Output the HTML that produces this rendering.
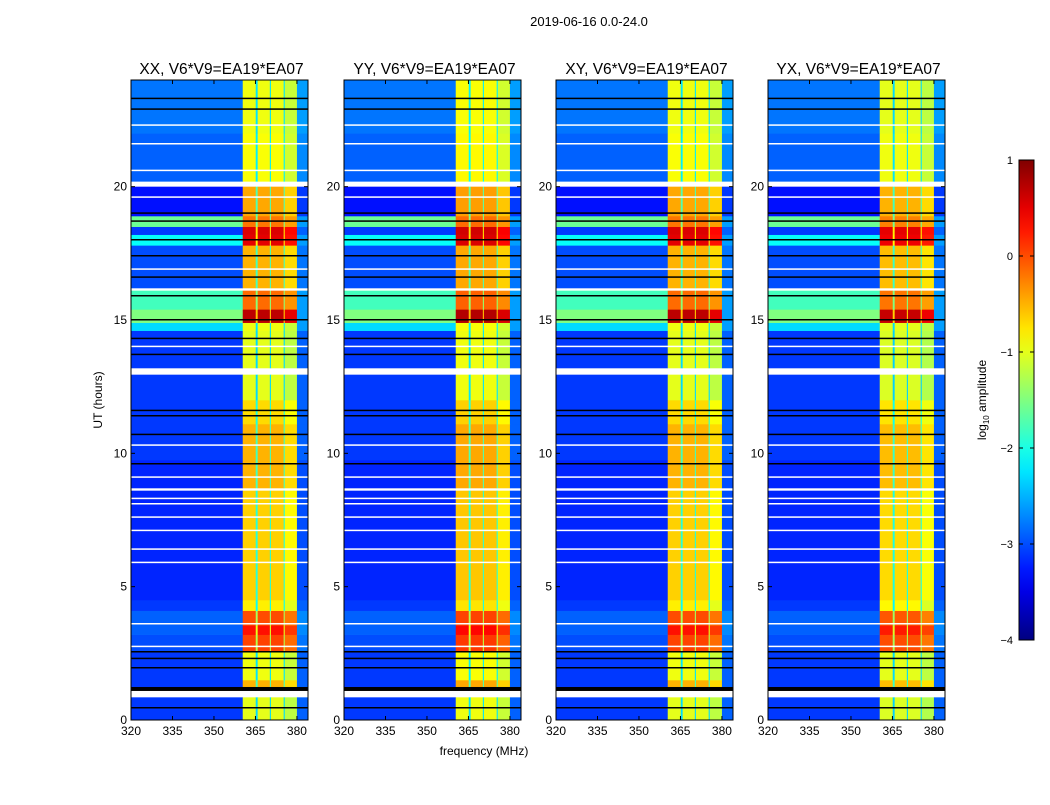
<!DOCTYPE html>
<html><head><meta charset="utf-8"><style>
html,body{margin:0;padding:0;background:#fff;}
svg text{font-family:"Liberation Sans",sans-serif;}
</style></head><body>
<svg id="fig" width="1050" height="800" xmlns="http://www.w3.org/2000/svg">
<rect width="1050" height="800" fill="#fff"/>
<text x="589" y="26" font-size="13" text-anchor="middle">2019-06-16 0.0-24.0</text>
<text x="484" y="755" font-size="12" text-anchor="middle">frequency (MHz)</text>
<text x="102" y="400" font-size="12" text-anchor="middle" transform="rotate(-90 102 400)">UT (hours)</text>
<g id="panels"></g>
<g id="cbar"></g>
</svg>
<script>
// ---- data ----
const panelTitles = ["XX, V6*V9=EA19*EA07","YY, V6*V9=EA19*EA07","XY, V6*V9=EA19*EA07","YX, V6*V9=EA19*EA07"];
const panelLeft = [131, 344, 556, 768];
const panelBandOffset = [0, 0.05, 0, -0.05];
const xTicks = [320, 335, 350, 365, 380];
const yTicks = [0, 5, 10, 15, 20];
const cbTicks = [1, 0, -1, -2, -3, -4];
// time bands: [t0, t1, background level, band level] (log10 amplitude)
const rowStart = [0, 0.85, 1.1, 1.25, 1.5, 2.6, 3.2, 3.55, 4.1, 4.5, 8.6, 8.7, 9.75, 11.1, 12.0, 12.95, 13.2, 14.6, 14.9, 15.4, 16.1, 16.2, 17.8, 18.2, 18.5, 18.9, 20.0, 20.2, 22.0];
const rowEnd   = [0.85, 1.1, 1.25, 1.5, 2.6, 3.2, 3.55, 4.1, 4.5, 8.6, 8.7, 9.75, 11.1, 12.0, 12.95, 13.2, 14.6, 14.9, 15.4, 16.1, 16.2, 17.8, 18.2, 18.5, 18.9, 20.0, 20.2, 22.0, 24.0];
const rowBg    = [-3.1, null, -9, -3.1, -3.1, -3.0, -2.9, -2.9, -3.1, -3.2, null, -3.2, -3.1, -3.1, -3.1, null, -3.1, -2.3, -1.5, -1.8, null, -3.0, -2.1, -3.1, -1.6, -3.3, null, -2.9, -2.8];
const rowBand  = [-1.0, null, -9, -0.5, -0.95, 0.05, 0.3, 0.0, -0.8, -0.65, null, -0.5, -0.5, -0.7, -1.0, null, -1.0, -0.95, 0.7, -0.15, null, -0.5, 0.5, 0.55, -0.2, -0.45, null, -0.9, -0.95];
// thin lines: time, kind (0 = black flag, 1 = blank)
const lineT = [0.45, 1.95, 2.3, 2.55, 2.75, 3.6, 5.9, 6.4, 7.1, 7.6, 8.1, 8.3, 9.1, 9.6, 10.3, 10.7, 11.4, 11.6, 13.7, 14.0, 14.3, 15.0, 15.9, 16.6, 16.9, 17.4, 18.0, 18.7, 19.0, 19.6, 20.6, 21.6, 22.3, 22.9, 23.3];
const lineK = [0, 0, 0, 0, 1, 1, 1, 1, 1, 1, 1, 1, 1, 0, 1, 0, 0, 0, 0, 1, 0, 0, 0, 0, 1, 0, 0, 0, 0, 1, 1, 1, 1, 0, 0];
// frequency columns: type: 0 bg, 1 band, 2 gap, 3 band-dim, 4 edge
const colF0 = [320, 360.4, 365.1, 365.8, 370.2, 370.6, 375.2, 375.6, 380.0];
const colF1 = [360.4, 365.1, 365.8, 370.2, 370.6, 375.2, 375.6, 380.0, 384.0];
const colType = [0, 1, 2, 1, 2, 1, 2, 3, 4];

// ---- helpers ----
const NS = "http://www.w3.org/2000/svg";
const W = 177, TOP = 80, BOT = 720;
const fMin = 320, fMax = 384, tMin = 0, tMax = 24;
function yOf(t){ return BOT - (t - tMin) / (tMax - tMin) * (BOT - TOP); }
function mk(tag, attrs, parent){ const e = document.createElementNS(NS, tag); for (const k in attrs) e.setAttribute(k, attrs[k]); parent.appendChild(e); return e; }
function jet(v){
  let x = (v + 4) / 5; x = Math.max(0, Math.min(1, x));
  const r = Math.max(0, Math.min(1, 1.5 - Math.abs(4*x - 3)));
  const g = Math.max(0, Math.min(1, 1.5 - Math.abs(4*x - 2)));
  const b = Math.max(0, Math.min(1, 1.5 - Math.abs(4*x - 1)));
  return `rgb(${Math.round(r*255)},${Math.round(g*255)},${Math.round(b*255)})`;
}
function cellVal(type, bg, band){
  if (type === 0) return bg;
  if (type === 1) return band;
  if (type === 2) return band - 1.3;
  if (type === 3) return band - 0.2;
  return Math.min(bg + 0.2, -2.6);
}

const panels = document.getElementById('panels');
panelLeft.forEach((L, p) => {
  const xOf = f => L + (f - fMin) / (fMax - fMin) * W;
  const g = mk('g', {}, panels);
  
  
  for (let r = 0; r < rowStart.length; r++) {
    const y0 = yOf(rowEnd[r]), y1 = yOf(rowStart[r]);
    if (rowBg[r] === null) continue; // blank (white) row
    for (let c = 0; c < colF0.length; c++) {
      const v = rowBg[r] < -5 ? -9 : cellVal(colType[c], rowBg[r], rowBand[r] + (colType[c] ? panelBandOffset[p] : 0));
      const x0 = xOf(colF0[c]), x1 = xOf(colF1[c]);
      const cell = mk('rect', {x: x0, y: y0, width: x1 - x0 + 0.3, height: y1 - y0 + 0.3, fill: v < -5 ? '#000' : jet(v)}, g);
      
      
    }
  }
  lineT.forEach((t, i) => {
    const ln = mk('rect', {x: L, y: yOf(t) - 1, width: W, height: 1.5, fill: lineK[i] ? '#fff' : '#000'}, g);
    
    
  });
  const fr = mk('rect', {x: L, y: TOP, width: W, height: BOT - TOP, fill: 'none', stroke: '#000', 'stroke-width': 1}, g);
  
  
  const tt = mk('text', {x: L + W/2 + 2, y: 74, 'font-size': 15.5, 'text-anchor': 'middle'}, g);
  tt.textContent = panelTitles[p];
  
  
  xTicks.forEach(f => {
    const x = xOf(f);
    mk('line', {x1: x, x2: x, y1: BOT, y2: BOT - 4, stroke: '#000'}, g);
    mk('line', {x1: x, x2: x, y1: TOP, y2: TOP + 4, stroke: '#000'}, g);
    const tx = mk('text', {x: x, y: BOT + 15, 'font-size': 12, 'text-anchor': 'middle'}, g);
    tx.textContent = f;
    
    
  });
  yTicks.forEach(t => {
    const y = yOf(t);
    mk('line', {x1: L, x2: L + 4, y1: y, y2: y, stroke: '#000'}, g);
    mk('line', {x1: L + W, x2: L + W - 4, y1: y, y2: y, stroke: '#000'}, g);
    const ty = mk('text', {x: L - 4, y: y + 4, 'font-size': 12, 'text-anchor': 'end'}, g);
    ty.textContent = t;
    
    
  });
});

// colorbar
const cb = document.getElementById('cbar');


const CX = 1019, CW = 15, CT = 160, CB = 640;
const defs = mk('defs', {}, cb);
const grad = mk('linearGradient', {id: 'jetg', x1: 0, y1: 1, x2: 0, y2: 0}, defs);
for (let i = 0; i <= 20; i++) mk('stop', {offset: i/20, 'stop-color': jet(-4 + 5*i/20)}, grad);
mk('rect', {x: CX, y: CT, width: CW, height: CB - CT, fill: 'url(#jetg)', stroke: '#000'}, cb);
cbTicks.forEach(v => {
  const y = CB - (v + 4) / 5 * (CB - CT);
  mk('line', {x1: CX, x2: CX + 4, y1: y, y2: y, stroke: '#000'}, cb);
  mk('line', {x1: CX + CW, x2: CX + CW - 4, y1: y, y2: y, stroke: '#000'}, cb);
  const t = mk('text', {x: CX - 6, y: y + 4, 'font-size': 11, 'text-anchor': 'end'}, cb);
  t.textContent = v < 0 ? '\u2212' + (-v) : String(v);
  
  
});
const cl = mk('text', {x: 986, y: 400, 'font-size': 12, 'text-anchor': 'middle', transform: 'rotate(-90 986 400)'}, cb);
cl.innerHTML = 'log<tspan font-size="8" dy="3">10</tspan><tspan dy="-3"> amplitude</tspan>';


</script>
</body></html>
